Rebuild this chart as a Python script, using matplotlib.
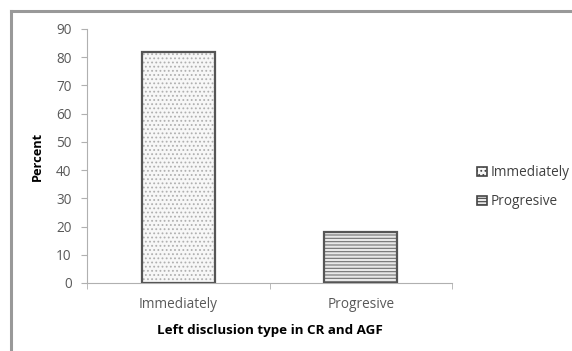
import matplotlib
matplotlib.use("Agg")
import matplotlib.pyplot as plt
from matplotlib.lines import Line2D
from matplotlib.patches import Patch

categories = ["Immediately", "Progresive"]
values = [82, 18]
yticks = [0, 10, 20, 30, 40, 50, 60, 70, 80, 90]
xlabel = "Left disclusion type in CR and AGF"
ylabel = "Percent"

plt.rcParams['font.family'] = ['Open Sans', 'DejaVu Sans']
plt.rcParams['hatch.linewidth'] = 0.8

fig = plt.figure(figsize=(5.72, 3.51), dpi=100)
W, H = 572, 351
ax = fig.add_axes([87 / W, 1 - 283 / H, (452 - 87) / W, (283 - 29) / H])

hatches = ['....', '-----']
hcolors = ['#b0b0b0', '#707070']
faces = ['#f7f7f7', '#e8e8e8']
for i, (c, v) in enumerate(zip(categories, values)):
    ax.bar(i, v, width=0.4, facecolor=faces[i], edgecolor=hcolors[i],
           hatch=hatches[i], linewidth=0, zorder=2)
    ax.bar(i, v, width=0.4, facecolor='none', edgecolor='#555555',
           linewidth=1.6, zorder=3)

ax.set_xlim(-0.5, 1.5)
ax.set_ylim(0, 90)
ax.set_yticks(yticks)
ax.set_xticks(range(len(categories)))
ax.set_xticklabels(categories)
ax.set_xticks([-0.5, 0.5, 1.5], minor=True)
ax.tick_params(axis='x', which='major', length=0, pad=10, labelsize=9.8, labelcolor='#595959')
ax.tick_params(axis='x', which='minor', length=4, color='#b0b0b0', direction='out')
ax.tick_params(axis='y', length=4, color='#b0b0b0', labelsize=9.8, labelcolor='#595959', pad=7)
for s in ['top', 'right']:
    ax.spines[s].set_visible(False)
for s in ['left', 'bottom']:
    ax.spines[s].set_color('#b0b0b0')
    ax.spines[s].set_linewidth(0.8)

ax.set_xlabel(xlabel, fontsize=9.6, fontweight='bold', labelpad=9)
ax.set_ylabel(ylabel, fontsize=9.2, fontweight='bold', labelpad=9)

handles = [Patch(facecolor=faces[i], edgecolor='#444444', hatch=hatches[i], linewidth=1.2)
           for i in range(len(categories))]
leg = fig.legend(handles, categories, loc='upper left',
                 bbox_to_anchor=(472 / W, 1 - 160 / H), frameon=False,
                 fontsize=9.8, handlelength=0.7, handleheight=0.7,
                 handletextpad=0.3, labelspacing=1.0, borderaxespad=0)
for t in leg.get_texts():
    t.set_color('#404040')

# outer frame lines (top and left)
fig.add_artist(Line2D([11 / W, 1], [1 - 11 / H, 1 - 11 / H], color='#999999', lw=2.2))
fig.add_artist(Line2D([11 / W, 11 / W], [0, 1 - 11 / H], color='#999999', lw=2.2))

fig.savefig("out.png", dpi=100)
